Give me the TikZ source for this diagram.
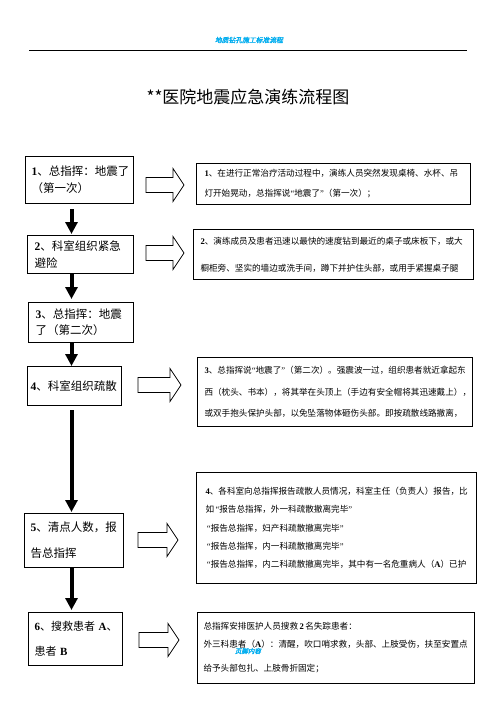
\documentclass[tikz,border=0pt]{standalone}
\usepackage{fontspec}
\newfontfamily\cjk{Noto Sans CJK SC}
\newfontfamily\cjkhead[FakeSlant=0.2,FakeBold=2]{Noto Sans CJK SC}
\newfontfamily\latinser{Liberation Serif}
\newcommand\oqm{{\latinser “}}
\newcommand\cqm{{\latinser ”}}
\newcommand\bsn[1]{{\latinser\bfseries #1}}
\usetikzlibrary{arrows.meta}
\newcommand\hollowarr[3]{%
  \draw[harrow] (#1,#3-7.5) -- (#2-11,#3-7.5) -- (#2-11,#3-16.5) -- (#2,#3)
    -- (#2-11,#3+16.5) -- (#2-11,#3+7.5) -- (#1,#3+7.5) -- cycle;}
\begin{document}
\begin{tikzpicture}[x=1bp,y=-1bp,
  lbox/.style={draw, line width=1bp, anchor=north west, inner ysep=0pt, align=left,
    font=\cjk\fontsize{11.5bp}{17bp}\selectfont},
  rbox/.style={draw, line width=1bp, anchor=north west, inner ysep=0pt, align=left,
    font=\cjk\fontsize{8.6bp}{20bp}\selectfont},
  darrow/.style={line width=4bp, -{Triangle[width=12bp,length=12bp]}},
  harrow/.style={draw, line width=0.8bp, fill=white},
  headtxt/.style={font=\cjkhead\fontsize{6.8bp}{8bp}\selectfont, text=cyan, inner sep=0pt}]
\useasboundingbox (0,0) rectangle (496,702);
\fill[white] (0,0) rectangle (496,702);

% header
\node[headtxt] (head) at (249,40) {地质钻孔施工标准流程};
\coordinate (hl) at (29,50);
\coordinate (hr) at (467,50);
\draw[line width=0.9bp] (hl) -- (hr);

% title
\node[font=\cjk\fontsize{17bp}{20bp}\selectfont, inner sep=0pt] (title) at (248,97) {**医院地震应急演练流程图};

% left boxes
\node[lbox, inner xsep=6bp, text width=96bp, minimum width=108bp, minimum height=47bp] (b1) at (25,156)
  {\bsn{1}、总指挥：地震了\\（第一次）\\[-3bp]};
\node[lbox, inner xsep=7bp, text width=92bp, minimum width=106bp, minimum height=38bp] (b2) at (27,235)
  {\bsn{2}、科室组织紧急\\避险};
\node[lbox, inner xsep=7bp, text width=91bp, minimum width=105bp, minimum height=40bp] (b3) at (28,302)
  {\bsn{3}、总指挥：地震\\[-1bp]了（第二次）};
\node[lbox, inner xsep=3bp, text width=88bp, minimum width=94bp, minimum height=39bp] (b4) at (27,366)
  {\bsn{4}、科室组织疏散\\[3bp]};
\node[lbox, inner xsep=6bp, text width=87bp, minimum width=99bp, minimum height=54bp, font=\cjk\fontsize{11.5bp}{26bp}\selectfont] (b5) at (24,513)
  {\bsn{5}、清点人数，报\\告总指挥};
\node[lbox, inner xsep=6bp, text width=82bp, minimum width=94bp, minimum height=53bp, font=\cjk\fontsize{11bp}{25bp}\selectfont] (b6) at (28,612)
  {\mbox{\bsn{6}、搜救患者 \bsn{A}、}\\患者 \bsn{B}};

% down arrows
\coordinate (ax) at (71.5,0);
\draw[darrow, shorten <=5bp, shorten >=1bp] (b1.south -| ax) -- (b2.north -| ax);
\draw[darrow, shorten >=3bp] (b2.south -| ax) -- (b3.north -| ax);
\draw[darrow] (b3.south -| ax) -- (b4.north -| ax);
\draw[darrow, shorten <=4bp, shorten >=1bp] (b4.south -| ax) -- (b5.north -| ax);
\draw[darrow, shorten >=2bp] (b5.south -| ax) -- (b6.north -| ax);

% hollow arrows
\hollowarr{146}{184}{185}
\hollowarr{146}{184}{253}
\hollowarr{138}{181}{385}
\hollowarr{138}{178}{540}
\hollowarr{139}{179}{640}

% right boxes
\node[rbox, inner xsep=8bp, text width=258bp, minimum width=274bp, minimum height=41bp] (r1) at (196,163)
  {\bsn{1}、在进行正常治疗活动过程中，演练人员突然发现桌椅、水杯、吊\\灯开始晃动，总指挥说\oqm 地震了\cqm（第一次）；};
\node[rbox, inner xsep=7bp, text width=266bp, minimum width=280bp, minimum height=50bp, font=\cjk\fontsize{8.6bp}{27bp}\selectfont] (r2) at (193,229)
  {\bsn{2}、演练成员及患者迅速以最快的速度钻到最近的桌子或床板下，或大\\橱柜旁、坚实的墙边或洗手间，蹲下并护住头部，或用手紧握桌子腿};
\node[rbox, inner xsep=7bp, text width=261bp, minimum width=275bp, minimum height=69bp, font=\cjk\fontsize{8.6bp}{21.5bp}\selectfont] (r3) at (197,357)
  {\bsn{3}、总指挥说\oqm 地震了\cqm（第二次）。强震波一过，组织患者就近拿起东\\西（枕头、书本），将其举在头顶上（手边有安全帽将其迅速戴上），\\或双手抱头保护头部，以免坠落物体砸伤头部。即按疏散线路撤离，};
\node[rbox, inner xsep=9bp, text width=262bp, minimum width=280bp, minimum height=111bp, font=\cjk\fontsize{8.6bp}{18.3bp}\selectfont] (r4) at (196,472)
  {\bsn{4}、各科室向总指挥报告疏散人员情况，科室主任（负责人）报告，比\\如\,\oqm 报告总指挥，外一科疏散撤离完毕\cqm\\\,\oqm 报告总指挥，妇产科疏散撤离完毕\cqm\\\,\oqm 报告总指挥，内一科疏散撤离完毕\cqm\\\,\oqm 报告总指挥，内二科疏散撤离完毕，其中有一名危重病人（\bsn{A}）已护\\[8bp]};
\node[rbox, inner xsep=6bp, text width=265bp, minimum width=277bp, minimum height=71bp, font=\cjk\fontsize{8.6bp}{18bp}\selectfont] (r5) at (197,612)
  {总指挥安排医护人员搜救\,\bsn{2}\,名失踪患者：\\外三科患者（\bsn{A}）：清醒，吹口哨求救，头部、上肢受伤，扶至安置点\\[6bp]给予头部包扎、上肢骨折固定；};

% watermark
\node[font=\cjkhead\fontsize{6.5bp}{7bp}\selectfont, text=cyan, inner sep=0pt] (wm) at (248,651) {页脚内容};
\end{tikzpicture}
\end{document}
